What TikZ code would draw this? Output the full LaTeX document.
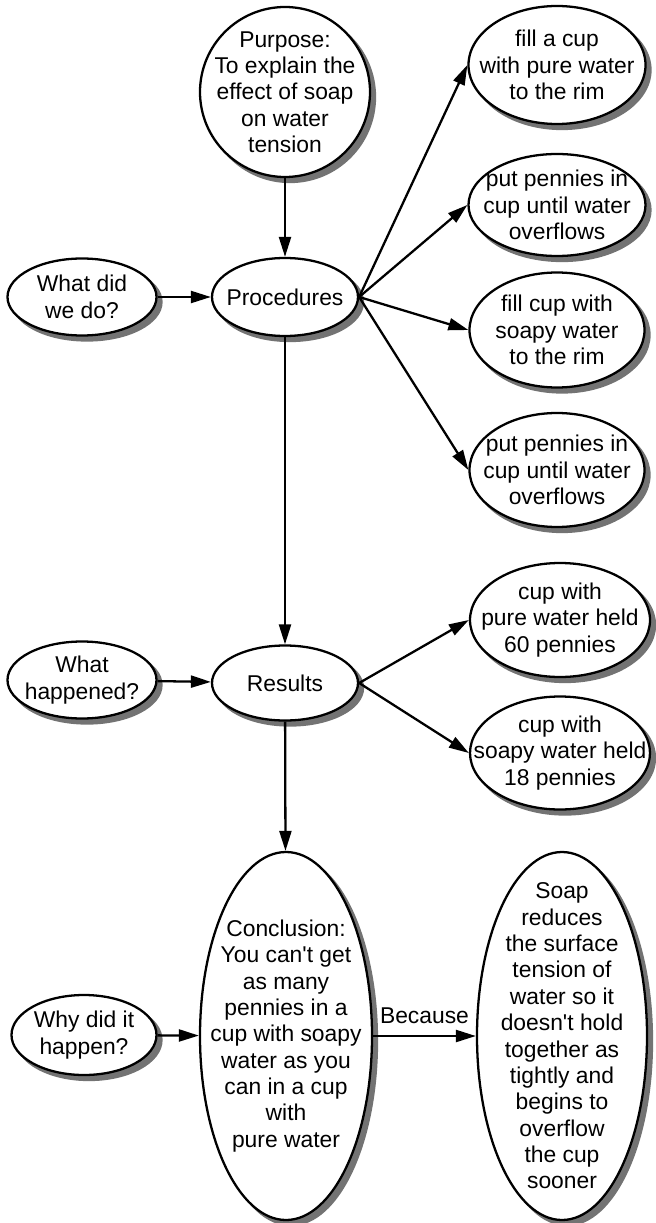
\documentclass[tikz,border=0pt]{standalone}
\usepackage{fontspec}
\setmainfont{Liberation Sans}
\usetikzlibrary{shapes.geometric,arrows.meta,calc}

\newcommand{\bubble}[6][ellipse]{%
  \node[bubshadow, #1, minimum width=#4, minimum height=#5] (#2-sh) at ($#3+(0.1,-0.1)$) {};
  \node[bub, #1, minimum width=#4, minimum height=#5] (#2) at #3 {#6};}

\begin{document}
\begin{tikzpicture}[
  bub/.style={draw, line width=1.3pt, fill=white, inner sep=-5mm, align=center,
    font=\fontsize{13}{15}\selectfont},
  bubshadow/.style={draw=black!55, fill=black!55, line width=1.3pt, inner sep=0pt},
  arr/.style={line width=1.3pt, -{Triangle[length=4mm, width=2.4mm]}}
]
\useasboundingbox (0,0) rectangle (13.1,-24.46);
\bubble[circle]{purpose}{(5.7,-1.84)}{3.4cm}{3.4cm}{Purpose:\\To explain the\\effect of soap\\on water\\tension}
\bubble{did}{(1.64,-5.94)}{2.98cm}{1.54cm}{What did\\we do?}
\bubble{proc}{(5.7,-5.94)}{2.92cm}{1.56cm}{Procedures}
\bubble{fill1}{(11.14,-1.3)}{3.54cm}{2.36cm}{fill a cup\\with pure water\\to the rim}
\bubble{put1}{(11.14,-4.1)}{3.54cm}{2.04cm}{put pennies in\\cup until water\\overflows}
\bubble{fill2}{(11.14,-6.6)}{3.5cm}{2.3cm}{fill cup with\\soapy water\\to the rim}
\bubble{put2}{(11.14,-9.4)}{3.5cm}{2.28cm}{put pennies in\\cup until water\\overflows}
\bubble{happ}{(1.64,-13.6)}{2.98cm}{1.54cm}{What\\happened?}
\bubble{res}{(5.7,-13.66)}{2.92cm}{1.5cm}{Results}
\bubble{pure}{(11.2,-12.4)}{3.6cm}{2.28cm}{cup with\\pure water held\\60 pennies}
\bubble{soapy}{(11.2,-15.06)}{3.6cm}{2.26cm}{cup with\\soapy water held\\18 pennies}
\bubble{why}{(1.68,-20.7)}{2.9cm}{1.6cm}{Why did it\\happen?}
\bubble{concl}{(5.72,-20.72)}{3.44cm}{7.36cm}{Conclusion:\\You can\textquotesingle t get\\as many\\pennies in a\\cup with soapy\\water as you\\can in a cup\\with\\pure water}
\bubble{soap}{(11.24,-20.72)}{3.4cm}{7.36cm}{Soap\\reduces\\the surface\\tension of\\water so it\\doesn\textquotesingle t hold\\together as\\tightly and\\begins to\\overflow\\the cup\\sooner}

\draw[arr] (purpose) -- (proc);
\draw[arr] (did) -- (proc);
\foreach \b in {fill1,put1,fill2,put2}
  \draw[arr] (proc.east) -- (\b.west);
\draw[arr] (proc) -- (res);
\draw[arr] (happ) -- (res);
\draw[arr] (res.east) -- (pure.west);
\draw[arr] (res.east) -- (soapy.west);
\draw[arr] (res) -- (concl);
\draw[arr] (why) -- (concl);
\draw[arr] (concl) -- node[above=3pt, font=\fontsize{13}{15}\selectfont] (because) {Because} (soap);
\end{tikzpicture}
\end{document}
